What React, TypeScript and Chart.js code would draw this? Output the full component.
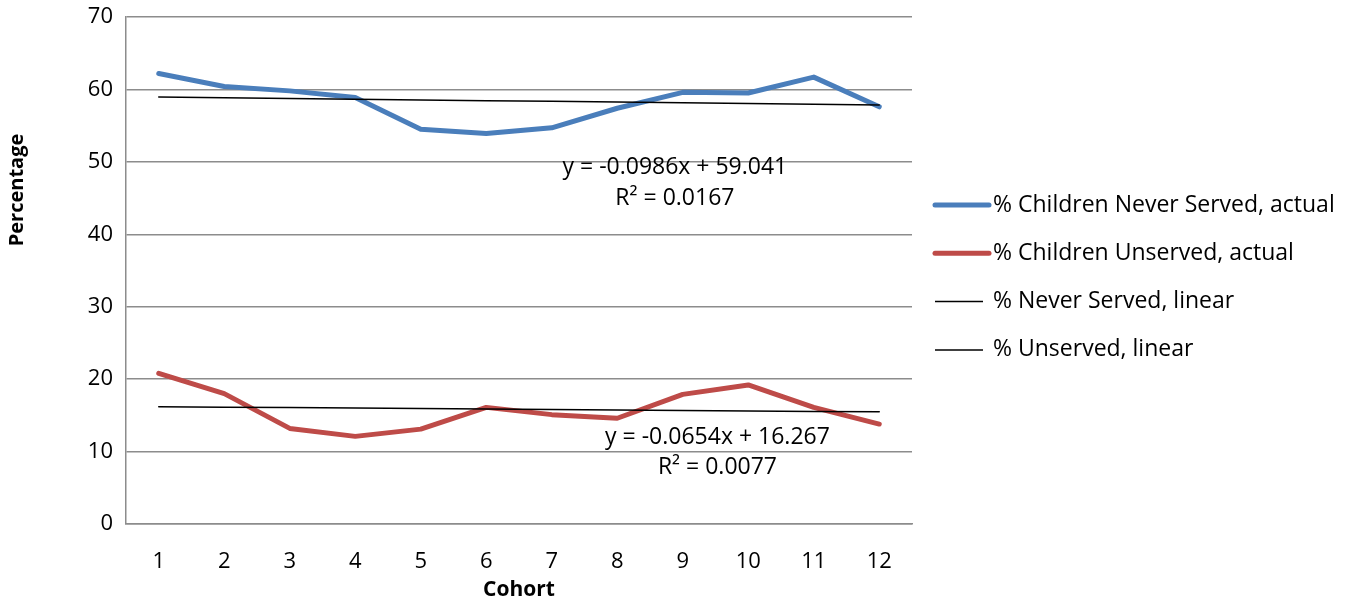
import React, { useEffect, useRef } from "react";
import { Chart, registerables } from "chart.js";

Chart.register(...registerables);

// Cohort categories on the x axis
const cohorts = ["1", "2", "3", "4", "5", "6", "7", "8", "9", "10", "11", "12"];

// Observed percentages per cohort
const neverServedActual = [62.2, 60.4, 59.8, 58.9, 54.5, 53.9, 54.7, 57.4, 59.6, 59.5, 61.7, 57.6];
const unservedActual = [20.8, 18.0, 13.2, 12.1, 13.1, 16.1, 15.1, 14.6, 17.9, 19.2, 16.1, 13.8];

// Linear trend fits: [never served, unserved]
const trendSlopes = [-0.0986, -0.0654];
const trendIntercepts = [59.041, 16.267];
const trendR2 = ["0.0167", "0.0077"];

const seriesLabels = [
  "% Children Never Served, actual",
  "% Children Unserved, actual",
  "% Never Served, linear",
  "% Unserved, linear",
];

const yTicks = [0, 10, 20, 30, 40, 50, 60, 70];

const BLUE = "#4a7ebb";
const RED = "#be4b48";
const GRID = "#8c8c8c";
const FONT = "'Open Sans', 'DejaVu Sans', sans-serif";

const trendValues = (k: number) =>
  cohorts.map((_, i) => trendIntercepts[k] + trendSlopes[k] * (i + 1));

const fmtEquation = (k: number) => {
  const s = trendSlopes[k];
  return `y = ${s < 0 ? "-" : ""}${Math.abs(s).toFixed(4)}x + ${trendIntercepts[k].toFixed(3)}`;
};

// Draws the y-axis title, trendline equations and the legend on the right.
const overlayPlugin = {
  id: "overlay",
  afterDraw(chart: any) {
    const { ctx, scales } = chart;
    const xs = scales.x;
    const ys = scales.y;
    ctx.save();

    // Y axis title
    ctx.fillStyle = "#000";
    ctx.font = `bold 20px ${FONT}`;
    ctx.textAlign = "center";
    ctx.textBaseline = "middle";
    ctx.translate(17, 190);
    ctx.rotate(-Math.PI / 2);
    ctx.fillText("Percentage", 0, 0);
    ctx.setTransform(1, 0, 0, 1, 0, 0);

    // Trendline equations (anchored in data coordinates)
    const anchors = [
      { x: 7.88, y1: 49.2, y2: 44.9 },
      { x: 8.53, y1: 12.0, y2: 7.85 },
    ];
    ctx.font = `23px ${FONT}`;
    ctx.textAlign = "center";
    ctx.textBaseline = "middle";
    anchors.forEach((a, k) => {
      const px = xs.getPixelForValue(a.x);
      ctx.fillText(fmtEquation(k), px, ys.getPixelForValue(a.y1));
      ctx.fillText(`R² = ${trendR2[k]}`, px, ys.getPixelForValue(a.y2));
    });

    // Legend
    const legendTop = 205;
    const legendStep = 48.3;
    const lineStart = chart.chartArea.right + 23;
    ctx.textAlign = "left";
    chart.data.datasets.forEach((ds: any, i: number) => {
      const y = legendTop + i * legendStep;
      const thick = ds.borderWidth > 2;
      ctx.beginPath();
      ctx.strokeStyle = ds.borderColor;
      ctx.lineWidth = ds.borderWidth;
      ctx.lineCap = thick ? "round" : "butt";
      ctx.moveTo(lineStart, y);
      ctx.lineTo(lineStart + (thick ? 54 : 48), y);
      ctx.stroke();
      ctx.fillStyle = "#000";
      ctx.fillText(ds.label, lineStart + 58, y);
    });
    ctx.restore();
  },
};

export default function App() {
  const ref = useRef<HTMLCanvasElement>(null);

  useEffect(() => {
    document.body.style.margin = "0";
    const canvas = ref.current;
    if (!canvas) return;
    const chart = new Chart(canvas, {
      type: "line",
      data: {
        labels: cohorts,
        datasets: [
          { label: seriesLabels[0], data: neverServedActual, borderColor: BLUE, backgroundColor: BLUE, borderWidth: 5, order: 2 },
          { label: seriesLabels[1], data: unservedActual, borderColor: RED, backgroundColor: RED, borderWidth: 5, order: 2 },
          { label: seriesLabels[2], data: trendValues(0), borderColor: "#000", backgroundColor: "#000", borderWidth: 1.5, order: 1 },
          { label: seriesLabels[3], data: trendValues(1), borderColor: "#000", backgroundColor: "#000", borderWidth: 1.5, order: 1 },
        ],
      },
      options: {
        responsive: false,
        animation: false,
        events: [],
        layout: { padding: { top: 17, right: 447, left: 0, bottom: 0 } },
        elements: {
          point: { radius: 0, hoverRadius: 0 },
          line: { tension: 0, borderJoinStyle: "round", borderCapStyle: "round" },
        },
        plugins: { legend: { display: false }, tooltip: { enabled: false } },
        scales: {
          x: {
            offset: true,
            grid: { display: false, drawTicks: false },
            border: { display: true, color: GRID, width: 1.5 },
            ticks: { color: "#000", font: { family: FONT, size: 22 }, padding: 25, maxRotation: 0, autoSkip: false },
            title: { display: true, text: "Cohort", color: "#000", font: { family: FONT, size: 21, weight: "bold" }, padding: { top: 0, bottom: 0 } },
            afterFit: (s: any) => {
              s.height = 79;
              s.paddingLeft = 0;
              s.paddingRight = 0;
            },
          },
          y: {
            min: 0,
            max: 70,
            afterBuildTicks: (s: any) => {
              s.ticks = yTicks.map((v) => ({ value: v }));
            },
            grid: { color: GRID, lineWidth: 1.5, drawTicks: false },
            border: { display: true, color: GRID, width: 1.5 },
            ticks: { color: "#000", font: { family: FONT, size: 22 }, padding: 13 },
            afterFit: (s: any) => {
              s.width = 126;
              s.paddingTop = 0;
              s.paddingBottom = 0;
            },
          },
        },
      },
      plugins: [overlayPlugin],
    });
    return () => chart.destroy();
  }, []);

  return <canvas ref={ref} width={1359} height={603} style={{ display: "block" }} />;
}
